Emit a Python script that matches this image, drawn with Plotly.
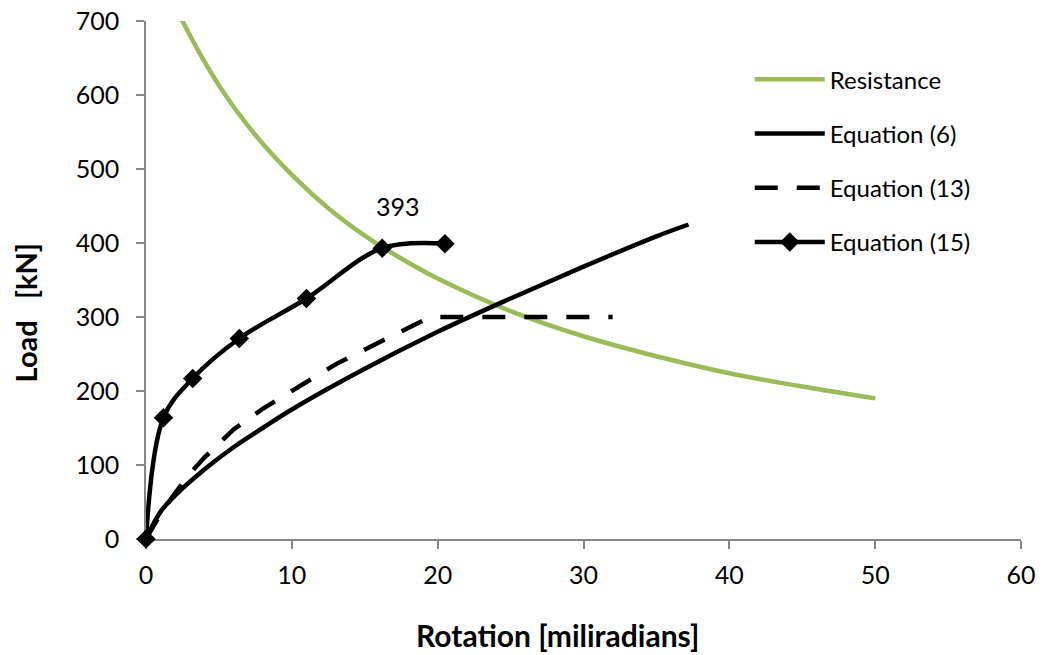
import plotly.graph_objects as go

# Resistance curve
res_x = [1.0, 2.5, 5, 7.5, 10, 12.5, 15, 17.5, 20, 25, 30, 35, 40, 45, 50]
res_y = [765, 700, 613, 546, 492, 447, 410, 379, 352, 308, 274, 247, 224, 206, 190]

# Equation (6)
eq6_x = [0, 1, 2, 4, 6, 8, 10, 15, 20, 25, 30, 35, 37.2]
eq6_y = [0, 37, 59, 94, 124, 150, 175, 230, 280, 325, 368, 409, 425]

# Equation (13)
eq13_x = [0, 1, 2, 3, 4, 6, 8, 10, 13, 16, 18, 19.5, 32]
eq13_y = [0, 34, 62, 88, 110, 148, 176, 200, 236, 266, 285, 300, 300]

# Equation (15)
eq15_x = [0, 1.2, 3.2, 6.4, 11.0, 16.2, 20.5]
eq15_y = [0, 164, 217, 271, 325, 393, 399]

label_x = 16.2
label_y = 393
label_text = "393"

x_ticks = [0, 10, 20, 30, 40, 50, 60]
y_ticks = [0, 100, 200, 300, 400, 500, 600, 700]

FONT = "Lato"
fig = go.Figure()

fig.add_trace(go.Scatter(x=res_x, y=res_y, mode="lines", name="Resistance",
                         line=dict(color="#9BBB59", width=4.5, shape="spline"),
                         legendgroup="a"))
fig.add_trace(go.Scatter(x=eq6_x, y=eq6_y, mode="lines", name="Equation (6)",
                         line=dict(color="black", width=4.5, shape="spline"),
                         legendgroup="b"))
fig.add_trace(go.Scatter(x=eq13_x, y=eq13_y, mode="lines", name="Equation (13)",
                         line=dict(color="black", width=4.5, dash="23px,19px"),
                         legendgroup="c"))
fig.add_trace(go.Scatter(x=eq15_x, y=eq15_y, mode="lines+markers", name="Equation (15)",
                         line=dict(color="black", width=4.5, shape="spline"),
                         marker=dict(symbol="diamond", size=15, color="black"),
                         cliponaxis=False, legendgroup="d"))

fig.add_annotation(x=label_x, y=label_y, text=label_text, showarrow=False,
                   xshift=16, yshift=42, font=dict(family=FONT, size=25, color="black"))

# Axis titles
fig.add_annotation(xref="paper", yref="paper", x=-0.138, y=0.436, xanchor="center", yanchor="middle",
                   text="<b>Load&nbsp;&nbsp;&nbsp;[kN]</b>",
                   textangle=-90, showarrow=False, font=dict(family=FONT, size=29, color="black"))
fig.add_annotation(xref="paper", yref="paper", x=0.4705, y=-0.185, xanchor="center", yanchor="middle",
                   text="<b>Rotation [miliradians]</b>",
                   showarrow=False, font=dict(family=FONT, size=30, color="black"))

fig.update_layout(
    width=1043, height=655,
    margin=dict(l=146, r=22, t=21, b=116),
    paper_bgcolor="white", plot_bgcolor="white",
    font=dict(family=FONT, size=24, color="black"),
    showlegend=True,
    legend=dict(x=0.69, y=0.93, xanchor="left", yanchor="top",
                font=dict(family=FONT, size=24, color="black"),
                itemwidth=70, tracegroupgap=20, traceorder="grouped",
                bgcolor="rgba(0,0,0,0)"),
    xaxis=dict(range=[0, 60], tickvals=x_ticks, showgrid=False, zeroline=False,
               showline=True, linecolor="#868686", linewidth=1.5, layer="below traces",
               ticks="outside", ticklen=8, tickcolor="#868686", tickwidth=1.5,
               ticklabelstandoff=5, automargin=False,
               tickfont=dict(family=FONT, size=25, color="black")),
    yaxis=dict(range=[0, 700], tickvals=y_ticks, showgrid=False, zeroline=False,
               showline=True, linecolor="#868686", linewidth=1.5, layer="below traces",
               ticks="outside", ticklen=8, tickcolor="#868686", tickwidth=1.5,
               ticklabelstandoff=12, automargin=False,
               tickfont=dict(family=FONT, size=25, color="black")),
)

fig.write_html("out.html")
